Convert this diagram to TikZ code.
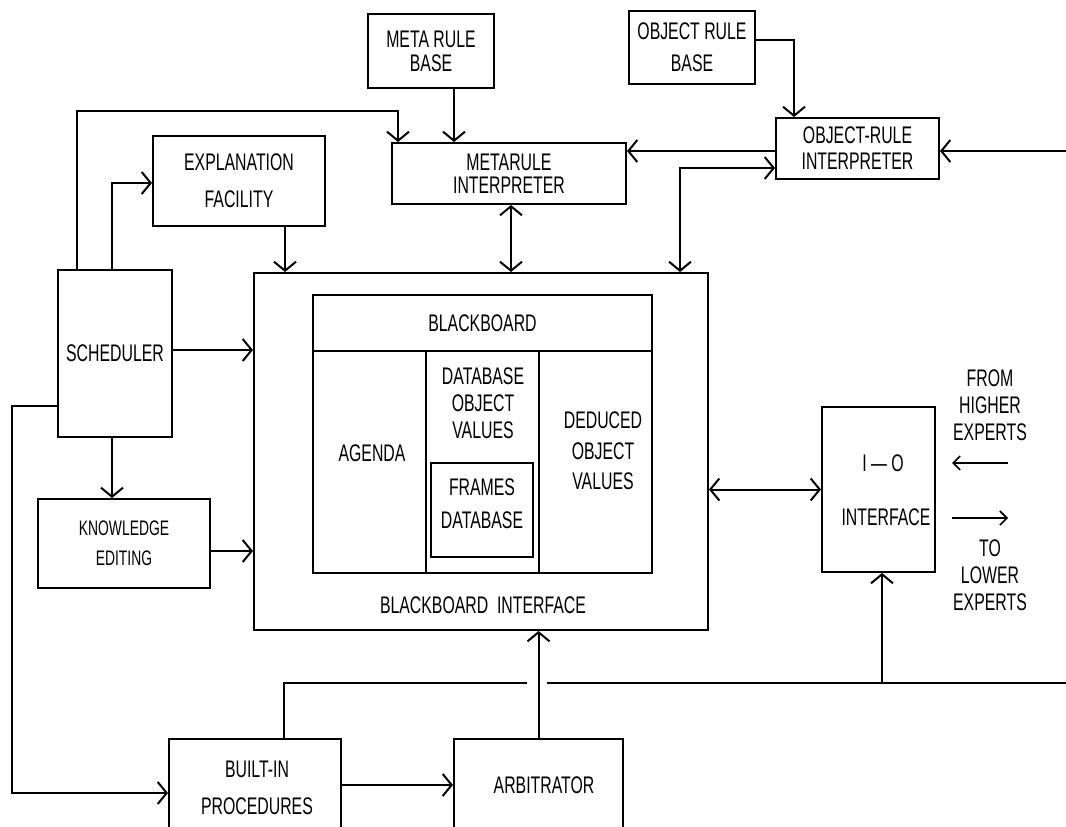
\documentclass[tikz,border=0pt]{standalone}
\usepackage{fontspec}
\setmainfont{Liberation Sans}[FakeStretch=0.66]
\usetikzlibrary{arrows.meta}
\begin{document}
\begin{tikzpicture}[x=1pt,y=-1pt,
  font=\fontsize{24}{27}\selectfont,
  box/.style={draw, line width=2pt, inner sep=0pt, align=center},
  txt/.style={align=center, inner sep=0pt},
  ln/.style={line width=2pt},
  arr/.style={line width=2pt, -{Straight Barb[length=9pt,width=22pt,line width=2pt]}},
  darr/.style={line width=2pt, {Straight Barb[length=9pt,width=22pt,line width=2pt]}-{Straight Barb[length=9pt,width=22pt,line width=2pt]}},
  sarr/.style={line width=1.6pt, -{Straight Barb[length=7pt,width=14pt,line width=1.6pt]}}]
\useasboundingbox[fill=white] (0,0) rectangle (1066,827);
\begin{scope}
\clip (0,0) rectangle (1066,827);
% boxes
\node[box, minimum width=126pt, minimum height=74pt, font=\fontsize{24}{24}\selectfont] (mrb) at (431,51) {META RULE\\BASE};
\node[box, minimum width=234pt, minimum height=61pt, font=\fontsize{24}{23}\selectfont] (mri) at (509,173.5) {METARULE\\INTERPRETER};
\node[box, minimum width=126pt, minimum height=73pt, font=\fontsize{24}{32}\selectfont] (orb) at (692,47.5) {OBJECT RULE\\BASE};
\node[box, minimum width=163pt, minimum height=61pt, font=\fontsize{24}{26}\selectfont] (ori) at (857.5,148.5) {OBJECT-RULE\\INTERPRETER};
\node[box, minimum width=172pt, minimum height=90pt, font=\fontsize{24}{37}\selectfont] (exp) at (239,181) {EXPLANATION\\FACILITY};
\node[box, minimum width=114pt, minimum height=167pt] (sch) at (115,353.5) {SCHEDULER};
\node[box, minimum width=172pt, minimum height=89pt, font=\fontsize{21}{30}\selectfont] (ke) at (124,543.5) {KNOWLEDGE\\EDITING};
\node[box, minimum width=454pt, minimum height=357pt] (bbi) at (481,451.5) {};
\node[box, minimum width=339pt, minimum height=56pt] (bbh) at (482.5,323) {BLACKBOARD};
\node[box, minimum width=113pt, minimum height=222pt] (ag) at (369.5,462) {};
\node[box, minimum width=113pt, minimum height=222pt] (dbov) at (482.5,462) {};
\node[box, minimum width=113pt, minimum height=222pt] (ded) at (595.5,462) {};
\node[box, minimum width=102pt, minimum height=94pt] (fr) at (482,510) {};
\node[box, minimum width=113pt, minimum height=165pt] (io) at (878.5,489.5) {};
\node[box, minimum width=172pt, minimum height=111pt] (bip) at (255,794.5) {};
\node[box, minimum width=169pt, minimum height=111pt] (arb) at (538.5,794.5) {};
% texts
\node[txt] (tag) at (372,453) {AGENDA};
\node[txt, font=\fontsize{24}{27}\selectfont] (tdb) at (483,403) {DATABASE\\OBJECT\\VALUES};
\node[txt, font=\fontsize{24}{30.5}\selectfont] (tded) at (603,451) {DEDUCED\\OBJECT\\VALUES};
\node[txt, font=\fontsize{24}{33}\selectfont] (tfr) at (482,503.5) {FRAMES\\DATABASE};
\node[txt] (tbbi) at (483,605) {BLACKBOARD\ \ INTERFACE};
\node[txt] (tio1) at (883,463) {I \textemdash\ O};
\node[txt] (tio2) at (886,517) {INTERFACE};
\node[txt] (thi) at (990,405) {FROM\\HIGHER\\EXPERTS};
\node[txt] (tlo) at (990,575) {TO\\LOWER\\EXPERTS};
\node[txt, font=\fontsize{24}{37}\selectfont] (tbip) at (257,788) {BUILT-IN\\PROCEDURES};
\node[txt] (tarb) at (544,785) {ARBITRATOR};
% coordinates
\coordinate (rin) at (1066,151);
\coordinate (lft) at (12,793);
\coordinate (bus) at (1066,683);
\coordinate (h1) at (1008,463);
\coordinate (h2) at (952,463);
\coordinate (l1) at (952,518);
\coordinate (l2) at (1008,518);
% connectors
\draw[arr] ([xshift=-38pt]sch.north) |- ([xshift=-111pt,yshift=31pt]mri.north) -- ([xshift=-111pt]mri.north);
\draw[arr] ([xshift=-3pt]sch.north) |- ([yshift=-2pt]exp.west);
\draw[arr] ([xshift=23pt]mrb.south) -- ([xshift=23pt]mrb.south |- mri.north);
\draw[arr] ([yshift=7.5pt]orb.east) -| ([xshift=-63.5pt]ori.north);
\draw[arr] ([yshift=-2.5pt]ori.west) -- ([yshift=-2.5pt]ori.west -| mri.east);
\draw[arr] (rin) -- (rin -| ori.east);
\draw[darr] ([yshift=-19.5pt]ori.west) -| ([xshift=199pt]bbi.north);
\draw[darr] ([xshift=2pt]mri.south) -- ([xshift=2pt]mri.south |- bbi.north);
\draw[arr] ([xshift=46pt]exp.south) -- ([xshift=46pt]exp.south |- bbi.north);
\draw[arr] ([yshift=3.5pt]sch.east) -- ([yshift=3.5pt]sch.east -| bbi.west);
\draw[arr] ([xshift=-3pt]sch.south) -- ([xshift=-3pt]sch.south |- ke.north);
\draw[arr] ([yshift=-7.5pt]ke.east) -- ([yshift=-7.5pt]ke.east -| bbi.west);
\draw[arr] ([yshift=-52.5pt]sch.west) -| (lft) -- (lft -| bip.west);
\draw[arr] ([yshift=9.5pt]bip.east) -- ([yshift=9.5pt]bip.east -| arb.west);
\draw[arr] (arb.north) -- (arb.north |- bbi.south);
\draw[ln] ([xshift=29pt]bip.north) |- ([xshift=-11.5pt]arb.north |- bus);
\draw[ln] ([xshift=8.5pt]arb.north |- bus) -- (bus);
\draw[arr] ([xshift=3.5pt]io.south |- bus) -- ([xshift=3.5pt]io.south);
\draw[darr] (bbi.east |- io.west) -- (io.west);
\draw[sarr] (h1) -- (h2);
\draw[sarr] (l1) -- (l2);
\end{scope}
\end{tikzpicture}
\end{document}
